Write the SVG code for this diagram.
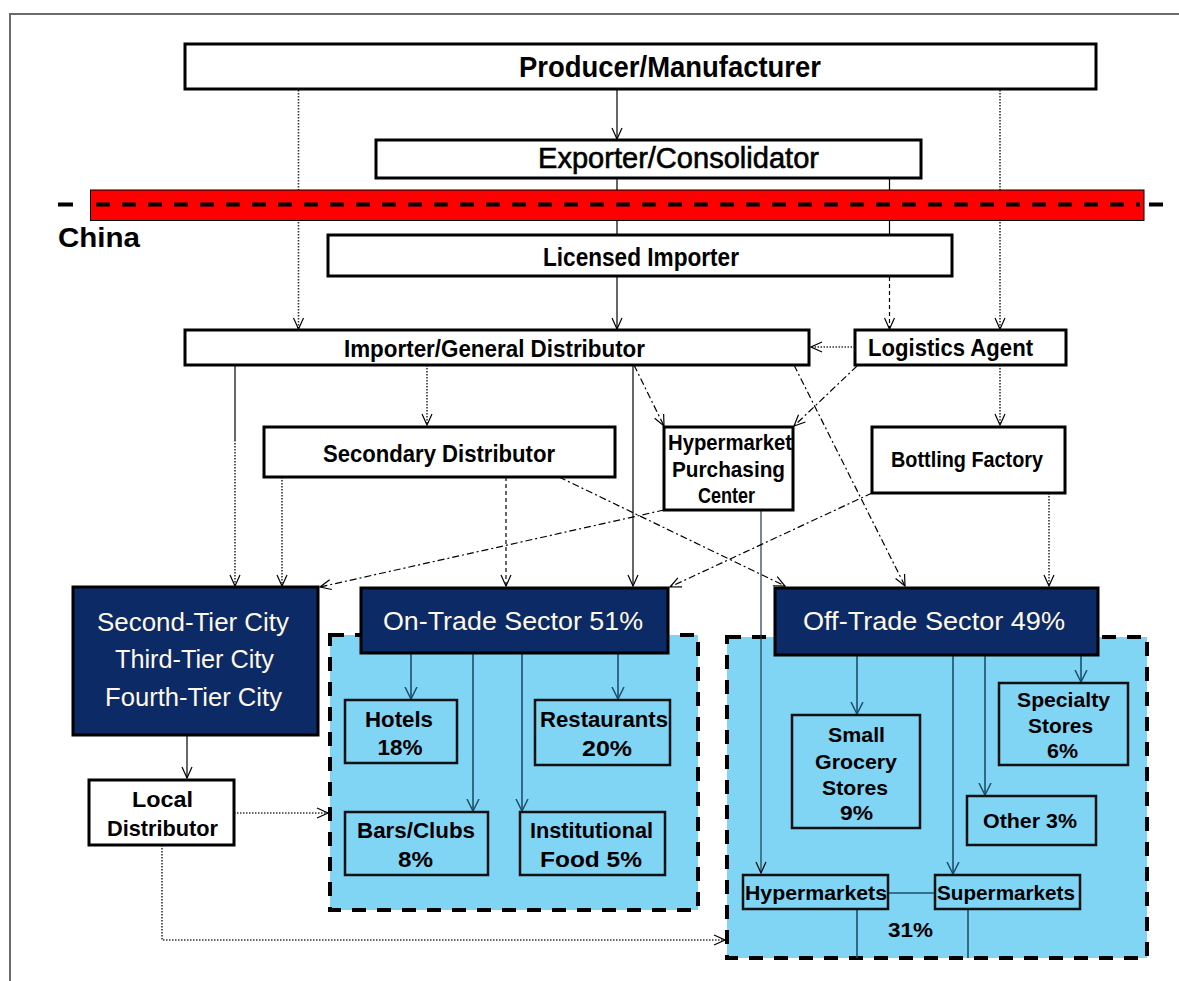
<svg xmlns="http://www.w3.org/2000/svg" width="1179" height="981" viewBox="0 0 1179 981">
<defs>
<marker id="ah" viewBox="-12 -6 13 12" refX="0" refY="0" markerWidth="13" markerHeight="12" markerUnits="userSpaceOnUse" orient="auto"><path d="M-11,-5 L0,0 L-11,5" fill="none" stroke="#000" stroke-width="1.2"/></marker>
<marker id="aht" viewBox="-12 -7 13 14" refX="0" refY="0" markerWidth="13" markerHeight="14" markerUnits="userSpaceOnUse" orient="auto"><path d="M-12,-6 L0,0 L-12,6" fill="none" stroke="#1d4f6c" stroke-width="1.5"/></marker>
</defs>
<style>
.frame{fill:none;stroke:#6a6a6a;stroke-width:2}
.wbox{fill:#fff;stroke:#000;stroke-width:3}
.nbox{fill:#0c2a66;stroke:#000;stroke-width:3}
.ibox{fill:none;stroke:#111;stroke-width:2.5}
.region{fill:#80d4f4;stroke:#000;stroke-width:4;stroke-dasharray:14 11}
.c{fill:none;stroke:#000;stroke-width:1.2}
.dot{stroke-dasharray:1.5 1.5;stroke:#333;stroke-width:1.6}
.dash{stroke-dasharray:4 3}
.dd{stroke-dasharray:7 3 2 3}
.arr{marker-end:url(#ah)}
.in{fill:none;stroke:#1d4f6c;stroke-width:1.6}
.ain{marker-end:url(#aht)}
.b{font-family:"Liberation Sans",Arial,sans-serif;font-weight:bold;fill:#000;text-anchor:middle}
.m{font-family:"Liberation Sans",Arial,sans-serif;fill:#000;stroke:#000;stroke-width:0.6;text-anchor:middle}
.r{font-family:"Liberation Sans",Arial,sans-serif;fill:#fff8e6;text-anchor:middle}
</style>
<rect width="1179" height="981" fill="#fff"/>
<path class="frame" d="M10,981 V14 H1179"/>

<g id="on-trade-region"><rect class="region" x="330" y="635" width="368" height="275"/></g>
<g id="off-trade-region"><rect class="region" x="727" y="637" width="420" height="321"/></g>

<g id="connectors">
<path class="c dot arr" d="M298.5,90 V329"/>
<path class="c arr" d="M617,90 V139"/>
<path class="c dot arr" d="M1000,90 V329"/>
<path class="c" d="M617,178 V235"/>
<path class="c" d="M889.5,173 V277"/>
<path class="c dash arr" d="M889.5,277 V329"/>
<path class="c arr" d="M617,276 V329"/>
<path class="c" d="M235,365 V440"/>
<path class="c dot arr" d="M235,440 V586"/>
<path class="c dot arr" d="M427,365 V425"/>
<path class="c dot arr" d="M855,347 H811"/>
<path class="c dd arr" d="M857,366 L794,426"/>
<path class="c dot arr" d="M1000,365 V425"/>
<path class="c dd arr" d="M634,365 L664,426"/>
<path class="c arr" d="M633,365 V586"/>
<path class="c dd arr" d="M794,365 L905,586"/>
<path class="c dot arr" d="M282,477 V586"/>
<path class="c dash arr" d="M506,477 V586"/>
<path class="c dd arr" d="M559,477 L785,586"/>
<path class="c dd arr" d="M664,510 L320,587"/>
<path class="c arr" d="M761,510 V873" style="stroke:#1a3a50"/>
<path class="c dd arr" d="M872,493 L670,587"/>
<path class="c dot arr" d="M1049,493 V586"/>
<path class="c arr" d="M187,735 V778"/>
<path class="c dot arr" d="M234,813 H328"/>
<path class="c dot arr" d="M162,845 V940 H725"/>
<path class="in ain" d="M411,653 V699"/>
<path class="in ain" d="M618,653 V699"/>
<path class="in ain" d="M473,653 V811"/>
<path class="in ain" d="M522,653 V811"/>
<path class="in ain" d="M857,655 V714"/>
<path class="in ain" d="M1081,655 V682"/>
<path class="in ain" d="M985,655 V795"/>
<path class="in ain" d="M953,655 V874"/>
<path class="in" d="M888,893 H935"/>
<path class="in" d="M857,909 V958"/>
<path class="in" d="M968,909 V958"/>
</g>

<g id="border-line">
<rect x="90.5" y="190" width="1053.5" height="30.5" fill="#ff0000" stroke="#000" stroke-width="1"/>
<path d="M58,204.5 H73 M1149,204.5 H1163" stroke="#000" stroke-width="4"/>
<path d="M96,204.5 H1140" stroke="#000" stroke-width="4" stroke-dasharray="14 12"/>
<text class="b" x="58" y="247" font-size="28" textLength="82" lengthAdjust="spacingAndGlyphs" style="text-anchor:start">China</text>
</g>

<g id="producer"><rect class="wbox" x="185" y="44" width="911" height="45"/>
<text class="b" x="670" y="77" font-size="30" textLength="302" lengthAdjust="spacingAndGlyphs">Producer/Manufacturer</text></g>

<g id="exporter"><rect class="wbox" x="376" y="140" width="545" height="38"/>
<text class="m" x="678.5" y="168" font-size="29" textLength="281" lengthAdjust="spacingAndGlyphs">Exporter/Consolidator</text></g>

<g id="licensed-importer"><rect class="wbox" x="328" y="235" width="624" height="41"/>
<text class="b" x="641" y="266" font-size="25" textLength="196" lengthAdjust="spacingAndGlyphs">Licensed Importer</text></g>

<g id="importer-general-distributor"><rect class="wbox" x="185" y="330" width="624" height="35"/>
<text class="b" x="494.5" y="357" font-size="23" textLength="301" lengthAdjust="spacingAndGlyphs">Importer/General Distributor</text></g>

<g id="logistics-agent"><rect class="wbox" x="855" y="330" width="211" height="35"/>
<text class="b" x="950.5" y="356" font-size="24" textLength="165" lengthAdjust="spacingAndGlyphs">Logistics Agent</text></g>

<g id="secondary-distributor"><rect class="wbox" x="264" y="427" width="351" height="50"/>
<text class="b" x="439" y="462" font-size="23" textLength="232" lengthAdjust="spacingAndGlyphs">Secondary Distributor</text></g>

<g id="hypermarket-purchasing-center"><rect class="wbox" x="664" y="427" width="129" height="83"/>
<text class="b" x="730" y="450" font-size="22" textLength="124" lengthAdjust="spacingAndGlyphs">Hypermarket</text>
<text class="b" x="728.5" y="477" font-size="22" textLength="113" lengthAdjust="spacingAndGlyphs">Purchasing</text>
<text class="b" x="726.5" y="503" font-size="22" textLength="57" lengthAdjust="spacingAndGlyphs">Center</text></g>

<g id="bottling-factory"><rect class="wbox" x="872" y="427" width="193" height="66"/>
<text class="b" x="967" y="467" font-size="22" textLength="152" lengthAdjust="spacingAndGlyphs">Bottling Factory</text></g>

<g id="tier-cities"><rect class="nbox" x="73" y="587" width="245" height="148"/>
<text class="r" x="193" y="631" font-size="25" textLength="192" lengthAdjust="spacingAndGlyphs">Second-Tier City</text>
<text class="r" x="194.5" y="668" font-size="25" textLength="159" lengthAdjust="spacingAndGlyphs">Third-Tier City</text>
<text class="r" x="193.5" y="706" font-size="25" textLength="177" lengthAdjust="spacingAndGlyphs">Fourth-Tier City</text></g>

<g id="local-distributor"><rect class="wbox" x="89" y="780" width="145" height="65"/>
<text class="b" x="162.5" y="807" font-size="22" textLength="61" lengthAdjust="spacingAndGlyphs">Local</text>
<text class="b" x="162.5" y="836" font-size="22" textLength="111" lengthAdjust="spacingAndGlyphs">Distributor</text></g>

<g id="on-trade"><rect class="nbox" x="361" y="588" width="307" height="65"/>
<text class="r" x="513" y="630" font-size="26" textLength="260" lengthAdjust="spacingAndGlyphs">On-Trade Sector 51%</text></g>

<g id="off-trade"><rect class="nbox" x="775" y="588" width="323" height="67"/>
<text class="r" x="934" y="630" font-size="26" textLength="262" lengthAdjust="spacingAndGlyphs">Off-Trade Sector 49%</text></g>

<g id="hotels"><rect class="ibox" x="345" y="700" width="112" height="63"/>
<text class="b" x="399" y="727" font-size="22" textLength="68" lengthAdjust="spacingAndGlyphs">Hotels</text>
<text class="b" x="400" y="755" font-size="22" textLength="45" lengthAdjust="spacingAndGlyphs">18%</text></g>

<g id="restaurants"><rect class="ibox" x="535" y="700" width="135" height="65"/>
<text class="b" x="604" y="727" font-size="22" textLength="128" lengthAdjust="spacingAndGlyphs">Restaurants</text>
<text class="b" x="607" y="756" font-size="22" textLength="50" lengthAdjust="spacingAndGlyphs">20%</text></g>

<g id="bars-clubs"><rect class="ibox" x="345" y="812" width="143" height="63"/>
<text class="b" x="416" y="838" font-size="22" textLength="118" lengthAdjust="spacingAndGlyphs">Bars/Clubs</text>
<text class="b" x="415.5" y="867" font-size="22" textLength="35" lengthAdjust="spacingAndGlyphs">8%</text></g>

<g id="institutional-food"><rect class="ibox" x="520" y="812" width="145" height="63"/>
<text class="b" x="591.5" y="838" font-size="22" textLength="123" lengthAdjust="spacingAndGlyphs">Institutional</text>
<text class="b" x="591" y="867" font-size="22" textLength="102" lengthAdjust="spacingAndGlyphs">Food 5%</text></g>

<g id="small-grocery"><rect class="ibox" x="792" y="715" width="128" height="113"/>
<text class="b" x="856.5" y="742" font-size="21" textLength="57" lengthAdjust="spacingAndGlyphs">Small</text>
<text class="b" x="856" y="769" font-size="21" textLength="82" lengthAdjust="spacingAndGlyphs">Grocery</text>
<text class="b" x="855" y="795" font-size="21" textLength="66" lengthAdjust="spacingAndGlyphs">Stores</text>
<text class="b" x="856.5" y="820" font-size="21" textLength="33" lengthAdjust="spacingAndGlyphs">9%</text></g>

<g id="specialty-stores"><rect class="ibox" x="999" y="683" width="129" height="82"/>
<text class="b" x="1063.5" y="707" font-size="21" textLength="93" lengthAdjust="spacingAndGlyphs">Specialty</text>
<text class="b" x="1060.5" y="733" font-size="21" textLength="65" lengthAdjust="spacingAndGlyphs">Stores</text>
<text class="b" x="1062.5" y="758" font-size="21" textLength="31" lengthAdjust="spacingAndGlyphs">6%</text></g>

<g id="other"><rect class="ibox" x="967" y="796" width="129" height="49"/>
<text class="b" x="1030" y="828" font-size="21" textLength="94" lengthAdjust="spacingAndGlyphs">Other 3%</text></g>

<g id="hypermarkets"><rect class="ibox" x="743" y="875" width="145" height="34"/>
<text class="b" x="816" y="900" font-size="21" textLength="142" lengthAdjust="spacingAndGlyphs">Hypermarkets</text></g>

<g id="supermarkets"><rect class="ibox" x="935" y="875" width="145" height="34"/>
<text class="b" x="1006" y="900" font-size="21" textLength="138" lengthAdjust="spacingAndGlyphs">Supermarkets</text></g>

<g id="share-31"><text class="b" x="910.5" y="937" font-size="20" textLength="45" lengthAdjust="spacingAndGlyphs">31%</text></g>
</svg>
